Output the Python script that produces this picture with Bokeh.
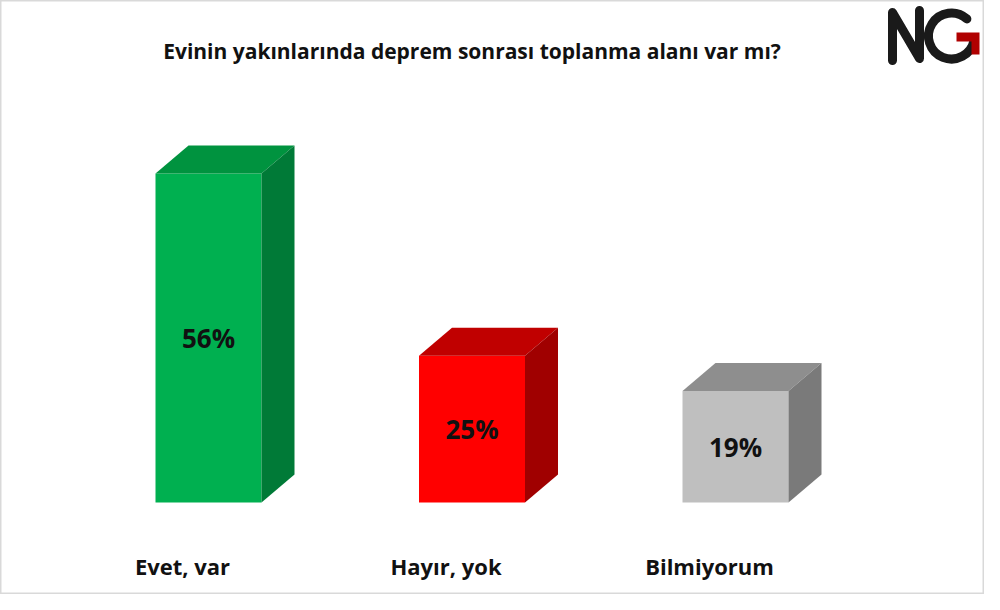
from bokeh.plotting import figure
from bokeh.models import Range1d, ColumnDataSource
from bokeh.core.properties import value
from bokeh.embed import file_html
from bokeh.resources import INLINE
import math

# ---- data ----
categories = ["Evet, var", "Hayır, yok", "Bilmiyorum"]
values = [56, 25, 19]
labels = ["56%", "25%", "19%"]
front_colors = ["#00B050", "#FF0000", "#BFBFBF"]
top_colors = ["#00933F", "#C00000", "#8E8E8E"]
side_colors = ["#007A37", "#A00000", "#7A7A7A"]
title_text = "Evinin yakınlarında deprem sonrası toplanma alanı var mı?"

W, H = 984, 594
PX_X = 263.5   # px per category step
PX_Y = 5.875   # px per percent
X0 = 208.0     # fig px of category 0 centre
Y0 = 502.0     # fig px (from top) of value 0

def dx(px):
    return (px - X0) / PX_X

def dy(py):
    return (Y0 - py) / PX_Y

p = figure(width=W, height=H, output_backend="svg", toolbar_location=None,
           x_range=Range1d(dx(0), dx(W)), y_range=Range1d(dy(H), dy(0)),
           min_border=0)
p.axis.visible = False
p.grid.visible = False
p.outline_line_color = "#D9D9D9"
p.outline_line_width = 2
p.background_fill_color = "white"
p.border_fill_color = "white"

bw = 106 / PX_X
ddx = 33 / PX_X
ddy = 28 / PX_Y

xs = list(range(len(values)))
front = ColumnDataSource(dict(x=xs, top=values, color=front_colors))
p.vbar(x="x", top="top", bottom=0, width=bw, fill_color="color", line_color=None, source=front)

top_xs, top_ys, side_xs, side_ys = [], [], [], []
for i, v in zip(xs, values):
    L, R = i - bw / 2, i + bw / 2
    top_xs.append([L, L + ddx, R + ddx, R])
    top_ys.append([v, v + ddy, v + ddy, v])
    side_xs.append([R, R, R + ddx, R + ddx])
    side_ys.append([0, v, v + ddy, ddy])
p.patches(xs="xs", ys="ys", fill_color="color", line_color=None,
          source=ColumnDataSource(dict(xs=top_xs, ys=top_ys, color=top_colors)))
p.patches(xs="xs", ys="ys", fill_color="color", line_color=None,
          source=ColumnDataSource(dict(xs=side_xs, ys=side_ys, color=side_colors)))

# value labels
p.text(x="x", y="y", text="t", source=ColumnDataSource(dict(x=xs, y=[v / 2 for v in values], t=labels)),
       text_font=value("Open Sans"), text_font_style="bold", text_font_size="26px",
       text_align="center", text_baseline="middle", text_color="#111111")

# category labels
p.text(x="x", y="y", text="t",
       source=ColumnDataSource(dict(x=[i - 26 / PX_X for i in xs], y=[dy(565)] * 3, t=categories)),
       text_font=value("Open Sans"), text_font_style="bold", text_font_size="22px",
       text_align="center", text_baseline="alphabetic", text_color="#111111")

# title
p.text(x=[dx(471.5)], y=[dy(50)], text=[title_text],
       text_font=value("Open Sans"), text_font_style="bold", text_font_size="21px",
       text_align="center", text_baseline="alphabetic", text_color="#111111")

# logo "NG"
def ix(x):
    return dx(x - 8)

def iy(y):
    return dy(y - 8)

p.line(x=[ix(900), ix(900), ix(927), ix(927)], y=[iy(68), iy(20), iy(66), iy(18)],
       line_color="#1a1a1a", line_width=9, line_join="round", line_cap="round")
p.arc(x=[ix(959)], y=[iy(43.5)], radius=23 / PX_X, start_angle=math.radians(48),
      end_angle=math.radians(-12), direction="anticlock",
      line_color="#1a1a1a", line_width=9, line_cap="round")
p.patch(x=[ix(964), ix(987), ix(987), ix(979), ix(979), ix(964)],
        y=[iy(40), iy(40), iy(62), iy(62), iy(49), iy(49)],
        fill_color="#B00000", line_color=None)

open("out.html", "w").write(file_html(p, INLINE))
